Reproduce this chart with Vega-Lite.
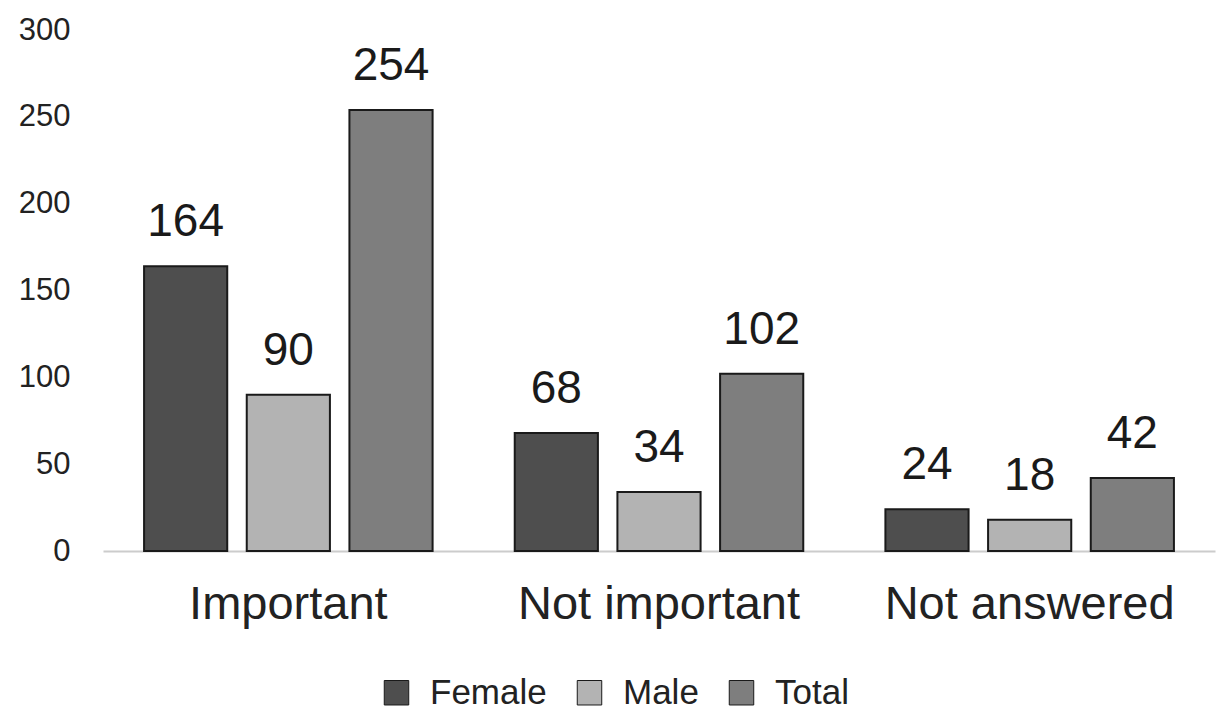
{
  "$schema": "https://vega.github.io/schema/vega-lite/v6.json",
  "width": 1112,
  "height": 521,
  "autosize": {"type": "none"},
  "padding": {"left": 103, "top": 30, "right": 3, "bottom": 164},
  "background": "white",
  "config": {
    "font": "Liberation Sans",
    "view": {"stroke": null}
  },
  "data": {
    "values": [
      {"category": "Important", "group": "Female", "value": 164},
      {"category": "Important", "group": "Male", "value": 90},
      {"category": "Important", "group": "Total", "value": 254},
      {"category": "Not important", "group": "Female", "value": 68},
      {"category": "Not important", "group": "Male", "value": 34},
      {"category": "Not important", "group": "Total", "value": 102},
      {"category": "Not answered", "group": "Female", "value": 24},
      {"category": "Not answered", "group": "Male", "value": 18},
      {"category": "Not answered", "group": "Total", "value": 42}
    ]
  },
  "encoding": {
    "x": {
      "field": "category",
      "type": "nominal",
      "sort": ["Important", "Not important", "Not answered"],
      "scale": {"paddingInner": 0, "paddingOuter": 0},
      "axis": {
        "title": null,
        "labelAngle": 0,
        "labelFontSize": 47,
        "labelColor": "#222222",
        "labelPadding": 30,
        "labelLimit": 0,
        "ticks": false,
        "domain": true,
        "domainColor": "#cccccc",
        "domainWidth": 2
      }
    },
    "xOffset": {
      "field": "group",
      "type": "nominal",
      "sort": ["Female", "Male", "Total"],
      "scale": {"paddingInner": 0.19, "paddingOuter": 0.4}
    },
    "y": {
      "field": "value",
      "type": "quantitative",
      "scale": {"domain": [0, 300]},
      "axis": {
        "title": null,
        "values": [0, 50, 100, 150, 200, 250, 300],
        "grid": false,
        "domain": false,
        "ticks": false,
        "labelFontSize": 31,
        "labelColor": "#222222",
        "labelPadding": 33
      }
    }
  },
  "layer": [
    {
      "mark": {"type": "bar", "stroke": "#1a1a1a", "strokeWidth": 2},
      "encoding": {
        "color": {
          "field": "group",
          "type": "nominal",
          "sort": ["Female", "Male", "Total"],
          "scale": {"domain": ["Female", "Male", "Total"], "range": ["#4e4e4e", "#b3b3b3", "#7e7e7e"]},
          "legend": {
            "title": null,
            "orient": "none",
            "direction": "horizontal",
            "legendX": 276,
            "legendY": 645,
            "symbolType": "square",
            "symbolSize": 600,
            "symbolStrokeColor": "#1a1a1a",
            "symbolStrokeWidth": 1,
            "labelFontSize": 35,
            "labelColor": "#222222",
            "labelOffset": 16,
            "labelLimit": 0,
            "columnPadding": 25,
            "padding": 0
          }
        }
      }
    },
    {
      "mark": {"type": "text", "fontSize": 46, "color": "#1a1a1a", "baseline": "alphabetic", "dy": -30},
      "encoding": {
        "text": {"field": "value", "type": "quantitative"}
      }
    }
  ]
}
